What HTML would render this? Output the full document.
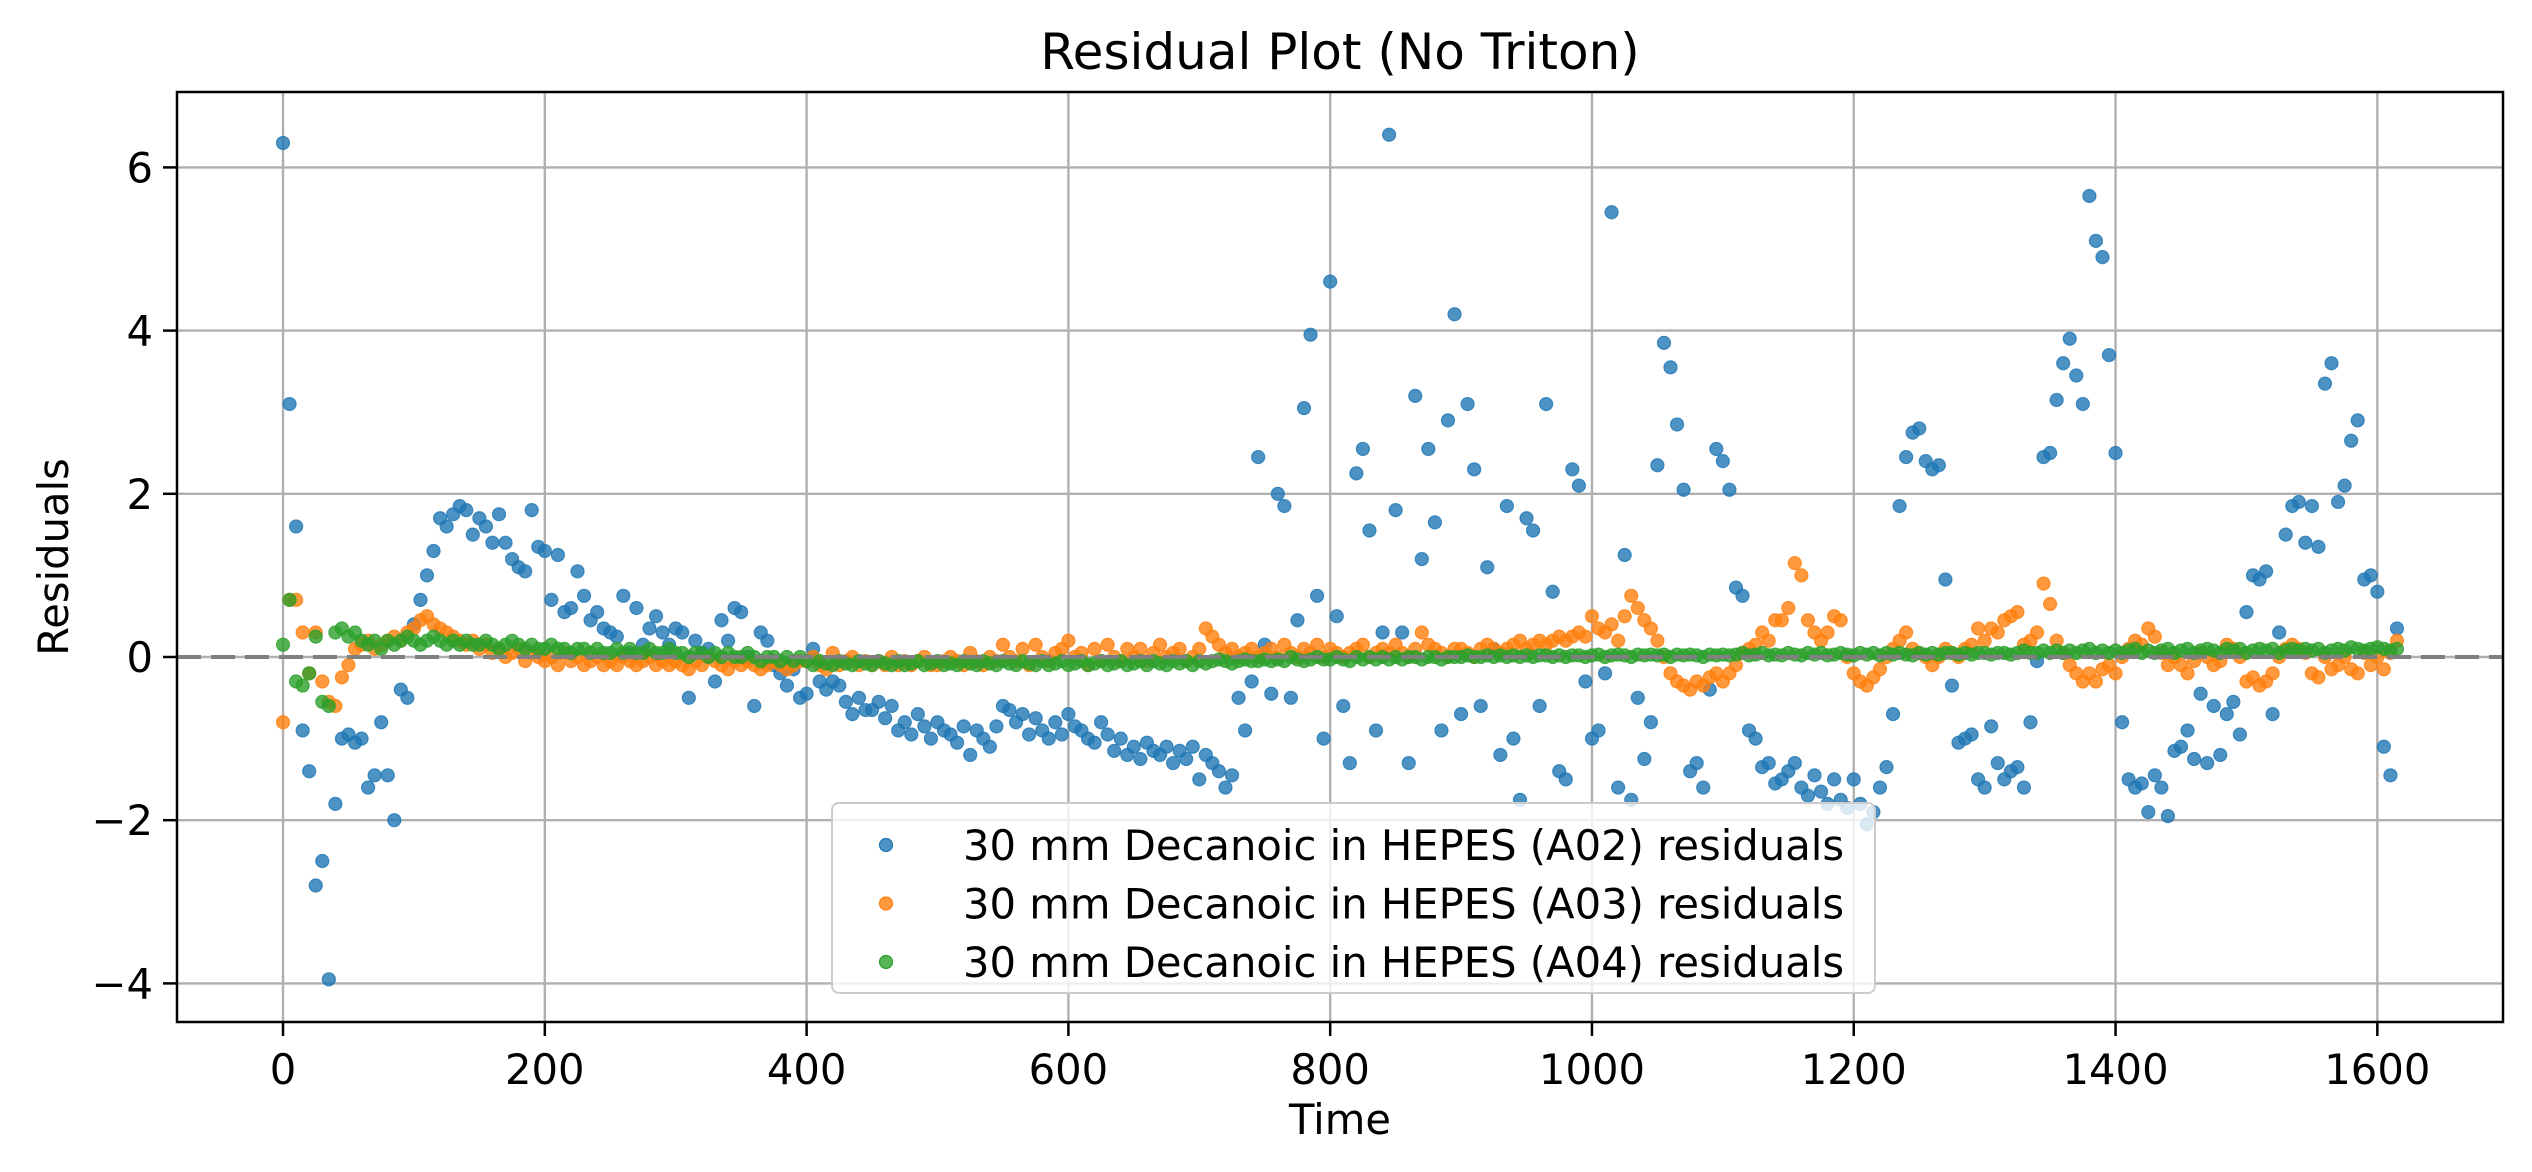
<!DOCTYPE html>
<html><head><meta charset="utf-8"><title>Residual Plot (No Triton)</title>
<style>
html,body{margin:0;padding:0;background:#fff;}
svg{display:block;font-family:"DejaVu Sans","Liberation Sans",sans-serif;}
</style></head>
<body>
<svg id="chart" width="2532" height="1172" viewBox="0 0 2532 1172" xmlns="http://www.w3.org/2000/svg">
<rect width="2532" height="1172" fill="#fff"/>
<g id="grid"></g>
<g id="marks"></g>
<g id="axes"></g>
<text x="1340" y="69" font-size="50" text-anchor="middle">Residual Plot (No Triton)</text>
<text x="1340" y="1134" font-size="41.7" text-anchor="middle">Time</text>
<text x="0" y="0" font-size="41.7" text-anchor="middle" transform="translate(68,557) rotate(-90)">Residuals</text>
<g id="legend"></g>
</svg>
<script>
const timeStep = 5;
const xTicks = [0,200,400,600,800,1000,1200,1400,1600];
const yTicks = [-4,-2,0,2,4,6];
const seriesNames = ["30 mm Decanoic in HEPES (A02) residuals","30 mm Decanoic in HEPES (A03) residuals","30 mm Decanoic in HEPES (A04) residuals"];
const seriesColors = ["#1f77b4","#ff7f0e","#2ca02c"];
const residA02 = [
6.3,3.1,1.6,-0.9,-1.4,-2.8,-2.5,-3.95,-1.8,-1.0,
-0.95,-1.05,-1.0,-1.6,-1.45,-0.8,-1.45,-2.0,-0.4,-0.5,
0.4,0.7,1.0,1.3,1.7,1.6,1.75,1.85,1.8,1.5,
1.7,1.6,1.4,1.75,1.4,1.2,1.1,1.05,1.8,1.35,
1.3,0.7,1.25,0.55,0.6,1.05,0.75,0.45,0.55,0.35,
0.3,0.25,0.75,0.05,0.6,0.15,0.35,0.5,0.3,0.15,
0.35,0.3,-0.5,0.2,0.05,0.1,-0.3,0.45,0.2,0.6,
0.55,0.0,-0.6,0.3,0.2,-0.1,-0.2,-0.35,-0.15,-0.5,
-0.45,0.1,-0.3,-0.4,-0.3,-0.35,-0.55,-0.7,-0.5,-0.65,
-0.65,-0.55,-0.75,-0.6,-0.9,-0.8,-0.95,-0.7,-0.85,-1.0,
-0.8,-0.9,-0.95,-1.05,-0.85,-1.2,-0.9,-1.0,-1.1,-0.85,
-0.6,-0.65,-0.8,-0.7,-0.95,-0.75,-0.9,-1.0,-0.8,-0.95,
-0.7,-0.85,-0.9,-1.0,-1.05,-0.8,-0.95,-1.15,-1.0,-1.2,
-1.1,-1.25,-1.05,-1.15,-1.2,-1.1,-1.3,-1.15,-1.25,-1.1,
-1.5,-1.2,-1.3,-1.4,-1.6,-1.45,-0.5,-0.9,-0.3,2.45,
0.15,-0.45,2.0,1.85,-0.5,0.45,3.05,3.95,0.75,-1.0,
4.6,0.5,-0.6,-1.3,2.25,2.55,1.55,-0.9,0.3,6.4,
1.8,0.3,-1.3,3.2,1.2,2.55,1.65,-0.9,2.9,4.2,
-0.7,3.1,2.3,-0.6,1.1,0.1,-1.2,1.85,-1.0,-1.75,
1.7,1.55,-0.6,3.1,0.8,-1.4,-1.5,2.3,2.1,-0.3,
-1.0,-0.9,-0.2,5.45,-1.6,1.25,-1.75,-0.5,-1.25,-0.8,
2.35,3.85,3.55,2.85,2.05,-1.4,-1.3,-1.6,-0.4,2.55,
2.4,2.05,0.85,0.75,-0.9,-1.0,-1.35,-1.3,-1.55,-1.5,
-1.4,-1.3,-1.6,-1.7,-1.45,-1.65,-1.8,-1.5,-1.75,-1.85,
-1.5,-1.8,-2.05,-1.9,-1.6,-1.35,-0.7,1.85,2.45,2.75,
2.8,2.4,2.3,2.35,0.95,-0.35,-1.05,-1.0,-0.95,-1.5,
-1.6,-0.85,-1.3,-1.5,-1.4,-1.35,-1.6,-0.8,-0.05,2.45,
2.5,3.15,3.6,3.9,3.45,3.1,5.65,5.1,4.9,3.7,
2.5,-0.8,-1.5,-1.6,-1.55,-1.9,-1.45,-1.6,-1.95,-1.15,
-1.1,-0.9,-1.25,-0.45,-1.3,-0.6,-1.2,-0.7,-0.55,-0.95,
0.55,1.0,0.95,1.05,-0.7,0.3,1.5,1.85,1.9,1.4,
1.85,1.35,3.35,3.6,1.9,2.1,2.65,2.9,0.95,1.0,
0.8,-1.1,-1.45,0.35];
const residA03 = [
-0.8,0.7,0.7,0.3,-0.2,0.3,-0.3,-0.55,-0.6,-0.25,
-0.1,0.1,0.15,0.2,0.1,0.15,0.2,0.25,0.2,0.3,
0.35,0.45,0.5,0.4,0.35,0.3,0.25,0.2,0.15,0.2,
0.1,0.15,0.05,0.1,0.0,0.05,0.1,-0.05,0.05,0.0,
-0.05,0.0,-0.1,0.05,-0.05,0.0,-0.1,-0.05,0.0,-0.1,
-0.05,-0.1,0.0,-0.05,-0.1,-0.05,0.0,-0.1,-0.05,-0.1,
-0.05,-0.1,-0.15,-0.05,-0.1,0.0,-0.05,-0.1,-0.15,-0.05,
-0.1,-0.05,-0.1,-0.15,-0.1,-0.05,-0.1,-0.15,-0.1,-0.05,
-0.05,0.0,-0.1,-0.15,0.05,-0.1,-0.05,0.0,-0.1,-0.05,
-0.1,-0.05,-0.1,0.0,-0.1,-0.05,-0.1,-0.05,0.0,-0.1,
-0.1,-0.05,0.0,-0.05,-0.1,0.05,-0.05,-0.1,0.0,-0.05,
0.15,0.0,-0.05,0.1,-0.1,0.15,0.0,-0.05,0.05,0.1,
0.2,0.0,0.05,-0.1,0.1,-0.05,0.15,0.0,-0.05,0.1,
0.0,0.1,-0.05,0.05,0.15,0.0,0.05,0.1,-0.05,0.0,
0.1,0.35,0.25,0.15,0.05,0.1,0.0,0.05,0.1,0.0,
0.05,0.1,0.0,0.15,0.05,0.0,0.1,0.05,0.15,0.0,
0.1,0.05,0.0,0.05,0.1,0.15,0.0,0.05,0.1,0.05,
0.15,0.05,0.0,0.1,0.3,0.15,0.1,0.05,0.0,0.1,
0.1,0.05,0.0,0.1,0.15,0.1,0.05,0.1,0.15,0.2,
0.1,0.15,0.2,0.15,0.2,0.25,0.2,0.25,0.3,0.25,
0.5,0.35,0.3,0.4,0.2,0.5,0.75,0.6,0.45,0.35,
0.2,0.0,-0.2,-0.3,-0.35,-0.4,-0.3,-0.35,-0.25,-0.2,
-0.3,-0.2,-0.1,0.05,0.1,0.15,0.3,0.2,0.45,0.45,
0.6,1.15,1.0,0.45,0.3,0.2,0.3,0.5,0.45,0.0,
-0.2,-0.3,-0.35,-0.25,-0.15,0.0,0.1,0.2,0.3,0.1,
0.05,0.0,-0.1,0.0,0.1,0.05,0.0,0.1,0.15,0.35,
0.2,0.35,0.3,0.45,0.5,0.55,0.15,0.2,0.3,0.9,
0.65,0.2,0.05,-0.1,-0.2,-0.3,-0.2,-0.3,-0.15,-0.1,
-0.2,0.0,0.1,0.2,0.15,0.35,0.25,0.05,-0.1,0.0,
-0.1,-0.2,-0.05,0.05,0.0,-0.1,-0.05,0.15,0.1,0.0,
-0.3,-0.25,-0.35,-0.3,-0.2,0.0,0.1,0.15,0.1,0.05,
-0.2,-0.25,0.0,-0.15,-0.1,0.0,-0.15,-0.2,0.05,-0.1,
0.0,-0.15,0.05,0.2];
const residA04 = [
0.15,0.7,-0.3,-0.35,-0.2,0.25,-0.55,-0.6,0.3,0.35,
0.25,0.3,0.2,0.15,0.2,0.1,0.2,0.15,0.2,0.25,
0.2,0.15,0.2,0.25,0.2,0.15,0.2,0.15,0.2,0.15,
0.15,0.2,0.15,0.1,0.15,0.2,0.15,0.1,0.15,0.1,
0.1,0.15,0.1,0.1,0.05,0.1,0.1,0.05,0.1,0.05,
0.05,0.1,0.05,0.1,0.05,0.05,0.1,0.05,0.05,0.1,
0.05,0.05,0.0,0.05,0.05,0.0,0.05,0.0,0.05,0.0,
0.0,0.05,0.0,-0.05,0.0,0.0,-0.05,0.0,-0.05,0.0,
-0.05,-0.1,-0.05,-0.08,-0.1,-0.05,-0.08,-0.1,-0.05,-0.08,
-0.1,-0.05,-0.08,-0.1,-0.05,-0.1,-0.08,-0.05,-0.1,-0.08,
-0.05,-0.1,-0.08,-0.1,-0.05,-0.08,-0.1,-0.05,-0.08,-0.1,
-0.05,-0.08,-0.1,-0.05,-0.08,-0.1,-0.05,-0.1,-0.08,-0.05,
-0.1,-0.08,-0.05,-0.1,-0.08,-0.05,-0.1,-0.08,-0.05,-0.1,
-0.08,-0.05,-0.1,-0.05,-0.08,-0.1,-0.05,-0.08,-0.05,-0.1,
-0.05,-0.08,-0.05,-0.03,-0.05,-0.08,-0.05,-0.03,-0.05,-0.05,
-0.03,-0.05,-0.03,-0.05,0.0,-0.03,-0.05,-0.03,0.0,-0.03,
-0.03,0.0,-0.03,-0.05,0.0,-0.03,0.0,-0.03,0.0,-0.03,
0.0,-0.03,0.0,0.0,-0.03,0.0,0.0,-0.03,0.0,0.0,
0.0,0.02,0.0,0.0,0.02,0.0,0.02,0.0,0.02,0.0,
0.02,0.0,0.02,0.02,0.0,0.02,0.0,0.02,0.02,0.0,
0.02,0.03,0.0,0.02,0.03,0.02,0.0,0.03,0.02,0.03,
0.02,0.03,0.0,0.03,0.02,0.03,0.02,0.0,0.03,0.02,
0.03,0.02,0.03,0.05,0.02,0.03,0.05,0.02,0.03,0.02,
0.05,0.03,0.02,0.05,0.03,0.05,0.02,0.03,0.05,0.03,
0.02,0.05,0.03,0.05,0.02,0.05,0.03,0.05,0.03,0.02,
0.05,0.03,0.05,0.03,0.05,0.05,0.03,0.05,0.03,0.05,
0.05,0.03,0.05,0.05,0.03,0.05,0.08,0.05,0.05,0.08,
0.05,0.08,0.05,0.08,0.05,0.08,0.1,0.05,0.08,0.05,
0.08,0.05,0.08,0.1,0.05,0.08,0.05,0.08,0.1,0.05,
0.08,0.1,0.05,0.08,0.1,0.08,0.05,0.1,0.08,0.1,
0.05,0.08,0.1,0.08,0.1,0.05,0.08,0.1,0.08,0.1,
0.08,0.1,0.05,0.08,0.1,0.08,0.12,0.1,0.08,0.1,
0.12,0.1,0.08,0.1];
const residSeries = [residA02, residA03, residA04];

const NS = "http://www.w3.org/2000/svg";
const L = 177, R = 2503, T = 92, B = 1022;
const xMin = -81, xMax = 1696, yMin = -4.473, yMax = 6.924;
function xs(t){ return L + (t - xMin) / (xMax - xMin) * (R - L); }
function ys(v){ return B - (v - yMin) / (yMax - yMin) * (B - T); }
function mk(tag, attrs, parent){ const e = document.createElementNS(NS, tag); for (const k in attrs) e.setAttribute(k, attrs[k]); parent.appendChild(e); return e; }

const grid = document.getElementById('grid');
const axes = document.getElementById('axes');
const marks = document.getElementById('marks');
const legend = document.getElementById('legend');

xTicks.forEach(t => {
  const x = xs(t);
  const g = mk('line', {x1:x, x2:x, y1:T, y2:B, stroke:'#b0b0b0', 'stroke-width':2.4}, grid);
  
  
  const tk = mk('line', {x1:x, x2:x, y1:B, y2:B+14, stroke:'#000', 'stroke-width':2.5}, axes);
  
  
  const lb = mk('text', {x:x, y:B+62, 'font-size':41.7, 'text-anchor':'middle'}, axes);
  lb.textContent = String(t);
  
  
});
yTicks.forEach(v => {
  const y = ys(v);
  const g = mk('line', {x1:L, x2:R, y1:y, y2:y, stroke:'#b0b0b0', 'stroke-width':2.4}, grid);
  
  
  const tk = mk('line', {x1:L-14, x2:L, y1:y, y2:y, stroke:'#000', 'stroke-width':2.5}, axes);
  
  
  const lb = mk('text', {x:L-24, y:y+15, 'font-size':41.7, 'text-anchor':'end'}, axes);
  lb.textContent = v < 0 ? '\u2212' + Math.abs(v) : String(v);
  
  
});

residSeries.forEach((vals, si) => {
  const g = mk('g', {}, marks);
  
  
  vals.forEach((v, i) => {
    const c = mk('circle', {cx:xs(i * timeStep), cy:ys(v), r:6.5, fill:seriesColors[si], 'fill-opacity':0.8, stroke:seriesColors[si], 'stroke-opacity':0.8, 'stroke-width':1.2}, g);
    
    
  });
});

const zl = mk('line', {x1:L, x2:R, y1:ys(0), y2:ys(0), stroke:'#808080', 'stroke-width':4, 'stroke-dasharray':'24 10'}, marks);



const frame = mk('rect', {x:L, y:T, width:R-L, height:B-T, fill:'none', stroke:'#000', 'stroke-width':2.5}, axes);



const lbox = mk('rect', {x:832, y:803, width:1043, height:190, rx:7, fill:'#fff', 'fill-opacity':0.8, stroke:'#cccccc', 'stroke-width':2}, legend);


seriesNames.forEach((name, i) => {
  const y = 845 + i * 58.5;
  const m = mk('circle', {cx:886, cy:y, r:6.5, fill:seriesColors[i], 'fill-opacity':0.8, stroke:seriesColors[i], 'stroke-width':1.2}, legend);
  
  
  const t = mk('text', {x:963, y:y+15, 'font-size':41.7}, legend);
  t.textContent = name;
  
  
});
</script>
</body></html>
